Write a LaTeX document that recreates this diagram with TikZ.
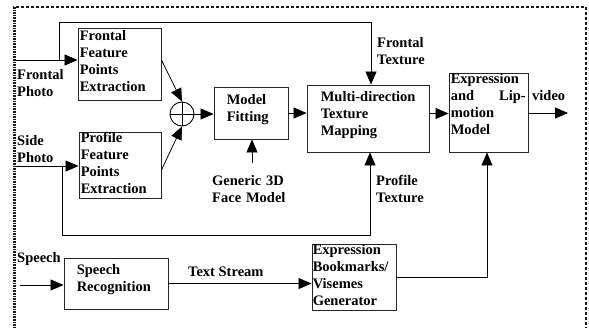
\documentclass[tikz,border=0pt]{standalone}
\usepackage{fontspec}
\setmainfont{Liberation Serif}
\usetikzlibrary{arrows.meta,calc}
\begin{document}
\begin{tikzpicture}[x=1pt,y=-1pt,
  font=\fontsize{14.5}{17}\selectfont\bfseries,
  box/.style={draw=black!85,line width=0.9pt,inner sep=0pt},
  txt/.style={inner sep=0pt,align=left,anchor=west},
  conn/.style={line width=0.8pt},
  arr/.style={conn,-{Triangle[length=13pt,width=11pt]}},
  framedash/.style={line width=1.5pt,dash pattern=on 3pt off 2pt,black!90}
]
\useasboundingbox (0,0) rectangle (589,327);
% frame
\draw[framedash] (586,340) -- (586,7) -- (13,7);
\draw[line width=3pt,dash pattern=on 1.6pt off 1pt,black!90] (14,7) -- (14,340);

% boxes
\node[box,minimum width=83pt,minimum height=72pt] (fe) at (119.5,64) {};
\node[txt,anchor=north west] at ([xshift=2pt,yshift=-3pt]fe.north west) {Frontal\\Feature\\Points\\Extraction};
\node[box,minimum width=82pt,minimum height=66pt] (pe) at (120,165) {};
\node[txt,anchor=north west] at ([xshift=2pt,yshift=-1pt]pe.north west) {Profile\\Feature\\Points\\Extraction};
\node[box,minimum width=74pt,minimum height=52pt] (mf) at (251,113) {};
\node[txt,anchor=north west] at ([xshift=13pt,yshift=-8pt]mf.north west) {Model\\Fitting};
\node[box,minimum width=122pt,minimum height=67pt] (mt) at (368,118.5) {};
\node[txt,anchor=north west] at ([xshift=14pt,yshift=-7pt]mt.north west) {Multi-direction\\Texture\\Mapping};
\node[box,minimum width=79pt,minimum height=79pt] (ex) at (488.5,112.5) {};
\node[txt,anchor=north west,text width=75pt,align=left] at ([xshift=2pt,yshift=-1pt]ex.north west) {Expression\\and\hfill Lip-\\motion\\Model};
\node[box,minimum width=104pt,minimum height=51pt] (sr) at (116,283.5) {};
\node[txt,anchor=north west] at ([xshift=13pt,yshift=-7pt]sr.north west) {Speech\\Recognition};
\node[box,minimum width=84pt,minimum height=66pt] (eb) at (354,277) {};
\node[txt,anchor=north west] at ([xshift=1pt,yshift=-1pt]eb.north west) {Expression\\Bookmarks/\\Visemes\\Generator};

% circle
\node[draw,circle,line width=0.9pt,minimum size=24pt,inner sep=0pt] (sum) at (182,114) {};
\draw[conn] (sum.north) -- (sum.south) (sum.west) -- (sum.east);

% labels
\node[txt] (lfp) at (17,83) {Frontal\\Photo};
\node[txt] (lsp) at (17,149.5) {Side\\Photo};
\node[txt] (lsph) at (17,259) {Speech};
\node[txt] (lft) at (377,51.5) {Frontal\\Texture};
\node[txt] (lpt) at (376,189) {Profile\\Texture};
\node[txt,text width=74pt] (lgm) at (212,189) {\makebox[72pt][s]{Generic 3D}\\Face Model};
\node[txt] (lts) at (188,272) {Text Stream};
\node[txt] (lv) at (532,96) {video};

% coordinates
\coordinate (fpin) at (15,60);
\coordinate (spin) at (15,166);
\coordinate (spch) at (20,285);
\coordinate (gen) at (252,163);
\coordinate (vout) at (568,113);
\coordinate (ftop) at (59,22);
\coordinate (pbot) at (62,235);

% connectors
\draw[arr] (fpin) -- (fpin -| fe.west);
\draw[arr] (59,60) -- (ftop) -| ([xshift=3pt]mt.north);
\draw[arr] (spin) -- (spin -| pe.west);
\draw[arr] (62,166) -- (pbot) -| ([xshift=2pt]mt.south);
\draw[arr] ([yshift=4pt]fe.east) -- (sum.north);
\draw[arr] ([yshift=-5pt]pe.east) -- (sum.south);
\draw[arr] (sum.east) -- (sum.east -| mf.west);
\draw[arr] (gen) -- (gen |- mf.south);
\draw[arr] (mf.east) -- (mf.east -| mt.west);
\draw[arr] ([yshift=5pt]mt.east) -- ([yshift=5pt]mt.east -| ex.west);
\draw[arr] (ex.east |- vout) -- (vout);
\draw[arr] (spch) -- (spch -| sr.west);
\draw[arr] (sr.east) -- (sr.east -| eb.west);
\draw[arr] (eb.east) -| ([xshift=-1.5pt]ex.south);
\end{tikzpicture}
\end{document}
